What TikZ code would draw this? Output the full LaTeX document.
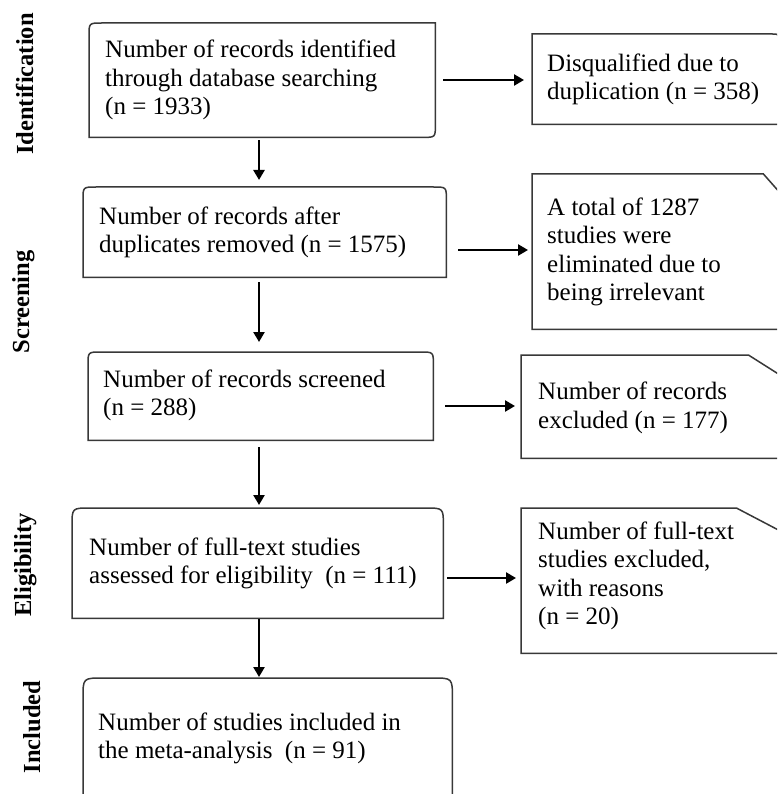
\documentclass[tikz,border=0pt]{standalone}
\usepackage{fontspec}
\setmainfont{Liberation Serif}
\usetikzlibrary{calc,arrows.meta}
\begin{document}
\begin{tikzpicture}[x=1pt,y=-1pt,
  boxn/.style={anchor=north west, inner sep=0pt, draw=none},
  txt/.style={font=\fontsize{25}{28.5}\selectfont, align=left, anchor=west, inner sep=0pt},
  outline/.style={draw=black!78, line width=1.5pt},
  arr/.style={line width=2.8pt, -{Triangle[length=10pt,width=11pt]}},
  side/.style={font=\fontsize{24.5}{28}\selectfont\bfseries, rotate=90, anchor=base, inner sep=0pt}
]
\clip (0,0) rectangle (777,794);
\fill[white] (0,0) rectangle (777,794);

% side labels
\node[side] (lid) at (33,84) {Identification};
\node[side] (lsc) at (29,302) {Screening};
\node[side] (lel) at (31,565) {Eligibility};
\node[side] (lin) at (40,727) {Included};

% main column boxes (frames)
\node[boxn, minimum width=346pt, minimum height=114pt] (b1) at (89,23) {};
\node[boxn, minimum width=363pt, minimum height=90pt] (b2) at (83,187) {};
\node[boxn, minimum width=345pt, minimum height=88pt] (b3) at (88,352) {};
\node[boxn, minimum width=371pt, minimum height=110pt] (b4) at (72,508) {};
\node[boxn, minimum width=369pt, minimum height=120pt] (b5) at (83,678) {};
% right column boxes (frames)
\node[boxn, minimum width=246pt, minimum height=90pt] (r1) at (532,34) {};
\node[boxn, minimum width=246pt, minimum height=155pt] (r2) at (532,174) {};
\node[boxn, minimum width=257pt, minimum height=103pt] (r3) at (521,355) {};
\node[boxn, minimum width=257pt, minimum height=145pt] (r4) at (521,508) {};

% texts
\node[txt] (t1) at ($(b1.west)+(16,0)$) {Number of records identified\\through database searching\\(n = 1933)};
\node[txt] (t2) at ($(b2.west)+(16,0)$) {Number of records after\\duplicates removed (n = 1575)};
\node[txt] (t3) at ($(b3.west)+(15,-1)$) {Number of records screened\\(n = 288)};
\node[txt] (t4) at ($(b4.west)+(17,0)$) {Number of full-text studies\\assessed for eligibility\ \ (n = 111)};
\node[txt] (t5) at ($(b5.west)+(15,0)$) {Number of studies included in\\the meta-analysis\ \ (n = 91)};
\node[txt] (u1) at ($(r1.west)+(15,0)$) {Disqualified due to\\duplication (n = 358)};
\node[txt] (u2) at ($(r2.west)+(15,0)$) {A total of 1287\\studies were\\eliminated\ due to\\being irrelevant};
\node[txt] (u3) at ($(r3.west)+(17,1)$) {Number of records\\excluded (n = 177)};
\node[txt] (u4) at ($(r4.west)+(17,-5)$) {Number of full-text\\studies excluded,\\with reasons\\(n = 20)};

% outlines of main boxes
\draw[outline] ($(b1.north west)+(0,13)$) .. controls (b1.north west) .. ($(b1.north west)+(13,0)$)
  -- (b1.north east) -- ($(b1.south east)+(0,-13)$) .. controls (b1.south east) .. ($(b1.south east)+(-13,0)$)
  -- (b1.south west) -- cycle;
\draw[outline] (b2.south west) -- ($(b2.north west)+(0,13)$) .. controls (b2.north west) .. ($(b2.north west)+(13,0)$)
  -- ($(b2.north east)+(-13,0)$) .. controls (b2.north east) .. ($(b2.north east)+(0,13)$)
  -- (b2.south east) -- cycle;
\draw[outline] (b3.south west) -- ($(b3.north west)+(0,13)$) .. controls (b3.north west) .. ($(b3.north west)+(13,0)$)
  -- ($(b3.north east)+(-13,0)$) .. controls (b3.north east) .. ($(b3.north east)+(0,13)$)
  -- (b3.south east) -- cycle;
\draw[outline] (b4.south west) -- ($(b4.north west)+(0,18)$) .. controls (b4.north west) .. ($(b4.north west)+(18,0)$)
  -- ($(b4.north east)+(-18,0)$) .. controls (b4.north east) .. ($(b4.north east)+(0,18)$)
  -- (b4.south east) -- cycle;
\draw[outline] (b5.south west) -- ($(b5.north west)+(0,20)$) .. controls (b5.north west) .. ($(b5.north west)+(20,0)$)
  -- ($(b5.north east)+(-20,0)$) .. controls (b5.north east) .. ($(b5.north east)+(0,20)$)
  -- (b5.south east) -- cycle;

% outlines of right boxes
\draw[outline] (r1.south west) -- (r1.north west) -- ($(r1.north east)+(-6,0)$)
  .. controls (r1.north east) .. ($(r1.north east)+(0,6)$) -- (r1.south east) -- cycle;
\draw[outline] (r2.south west) -- (r2.north west) -- ($(r2.north east)+(-15,0)$)
  -- ($(r2.north east)+(0,17)$) -- (r2.south east) -- cycle;
\draw[outline] (r3.south west) -- (r3.north west) -- ($(r3.north east)+(-30,0)$)
  -- ($(r3.north east)+(0,19)$) -- (r3.south east) -- cycle;
\draw[outline] (r4.south west) -- (r4.north west) -- ($(r4.north east)+(-42,0)$)
  -- ($(r4.north east)+(0,22)$) -- (r4.south east) -- cycle;

% horizontal arrows
\draw[arr] ($(b1.east |- 0,80)+(8,0)$) -- ($(r1.west |- 0,80)+(-8,0)$);
\draw[arr] ($(b2.east |- 0,250)+(12,0)$) -- ($(r2.west |- 0,250)+(-4,0)$);
\draw[arr] ($(b3.east |- 0,406)+(12,0)$) -- ($(r3.west |- 0,406)+(-6,0)$);
\draw[arr] ($(b4.east |- 0,578)+(4,0)$) -- ($(r4.west |- 0,578)+(-5,0)$);

% vertical arrows
\coordinate (ax) at (259,0);
\draw[arr] ($(ax |- b1.south)+(0,3)$) -- ($(ax |- b2.north)+(0,-7)$);
\draw[arr] ($(ax |- b2.south)+(0,5)$) -- ($(ax |- b3.north)+(0,-10)$);
\draw[arr] ($(ax |- b3.south)+(0,7)$) -- ($(ax |- b4.north)+(0,-3)$);
\draw[arr] ($(ax |- b4.south)+(0,1)$) -- ($(ax |- b5.north)+(0,-1)$);
\end{tikzpicture}
\end{document}
